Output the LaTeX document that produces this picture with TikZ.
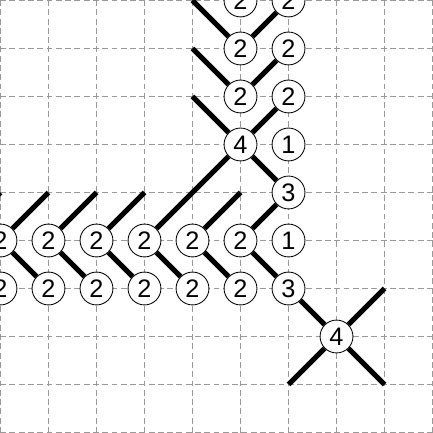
\documentclass[tikz,border=0pt]{standalone}
\usepackage{fontspec}
\setmainfont{Liberation Sans}
\tikzset{
  gridline/.style={draw=black!40, line width=0.6pt, dash pattern=on 3.5pt off 2pt},
  edge/.style={line width=3pt, line cap=butt},
  num/.style={circle, draw=black, line width=0.5pt, fill=white, minimum size=0.685cm, inner sep=0pt, font=\fontsize{15}{17}\selectfont},
}
\begin{document}
\begin{tikzpicture}[x=1cm,y=1cm]
\useasboundingbox (-0.01,-0.01) rectangle (9.01,9.01);
\clip (-0.01,-0.01) rectangle (9.01,9.01);
\foreach \k in {0,...,9} {
  \draw[gridline] (\k,-0.2) -- (\k,9.2);
  \draw[gridline] (-0.2,\k) -- (9.2,\k);
}
% free ends
\coordinate (f1) at (4,9);
\coordinate (f2) at (4,8);
\coordinate (f3) at (4,7);
\coordinate (g0) at (-1,4);
\coordinate (h0) at (0,5);
\coordinate (h1) at (1,5);
\coordinate (h2) at (2,5);
\coordinate (h3) at (3,5);
\coordinate (h4) at (5,5);
\coordinate (e1) at (8,3);
\coordinate (e2) at (6,1);
\coordinate (e3) at (8,1);
% nodes
\node[num] (a9) at (5,9) {2};
\node[num] (b9) at (6,9) {2};
\node[num] (a8) at (5,8) {2};
\node[num] (b8) at (6,8) {2};
\node[num] (a7) at (5,7) {2};
\node[num] (b7) at (6,7) {2};
\node[num] (a6) at (5,6) {4};
\node[num] (b6) at (6,6) {1};
\node[num] (b5) at (6,5) {3};
\node[num] (r0) at (0,4) {2};
\node[num] (r1) at (1,4) {2};
\node[num] (r2) at (2,4) {2};
\node[num] (r3) at (3,4) {2};
\node[num] (r4) at (4,4) {2};
\node[num] (r5) at (5,4) {2};
\node[num] (r6) at (6,4) {1};
\node[num] (s0) at (0,3) {2};
\node[num] (s1) at (1,3) {2};
\node[num] (s2) at (2,3) {2};
\node[num] (s3) at (3,3) {2};
\node[num] (s4) at (4,3) {2};
\node[num] (s5) at (5,3) {2};
\node[num] (s6) at (6,3) {3};
\node[num] (q) at (7,2) {4};
% connectors
\draw[edge] (f1) -- (a8);
\draw[edge] (a8) -- (b9);
\draw[edge] (f2) -- (a7);
\draw[edge] (a7) -- (b8);
\draw[edge] (f3) -- (a6);
\draw[edge] (a6) -- (b7);
\draw[edge] (a6) -- (r3);
\draw[edge] (a6) -- (b5);
\draw[edge] (b5) -- (r5);
\draw[edge] (g0) -- (h0);
\draw[edge] (r0) -- (h1);
\draw[edge] (r1) -- (h2);
\draw[edge] (r2) -- (h3);
\draw[edge] (r4) -- (h4);
\draw[edge] (r0) -- (s1);
\draw[edge] (r1) -- (s2);
\draw[edge] (r2) -- (s3);
\draw[edge] (r3) -- (s4);
\draw[edge] (r4) -- (s5);
\draw[edge] (r5) -- (s6);
\draw[edge] (s6) -- (q);
\draw[edge] (q) -- (e1);
\draw[edge] (q) -- (e2);
\draw[edge] (q) -- (e3);
\end{tikzpicture}
\end{document}
